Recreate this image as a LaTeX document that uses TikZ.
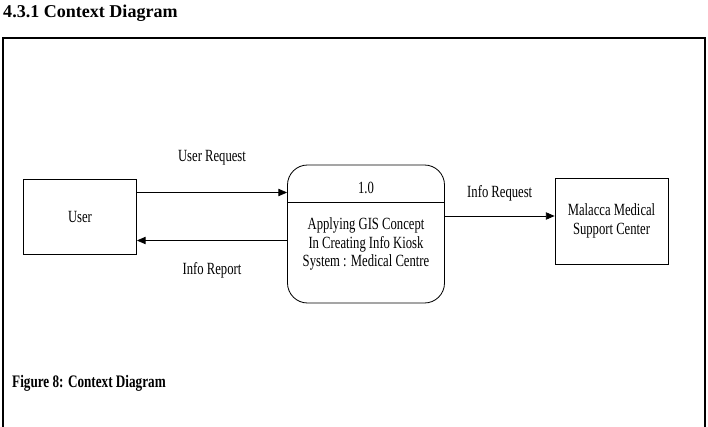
\documentclass[tikz,border=0pt]{standalone}
\usepackage{fontspec}
\setmainfont{Liberation Serif}
\newfontfamily\narrowserif[FakeStretch=0.74]{Liberation Serif}
\newfontfamily\captionserif[FakeStretch=0.75]{Liberation Serif}
\usetikzlibrary{arrows.meta,calc}
\tikzset{
  entity/.style={draw, line width=0.7pt, minimum width=3.39cm, minimum height=2.25cm, align=center, font=\narrowserif\fontsize{14.6}{16.5}\selectfont},
  procbox/.style={draw, line width=0.7pt, rounded corners=0.6cm, minimum width=4.71cm, minimum height=4.14cm},
  proctext/.style={align=center, font=\narrowserif\fontsize{14.6}{16}\selectfont},
  flowlabel/.style={font=\narrowserif\fontsize{14.6}{16}\selectfont},
  flow/.style={-{Triangle[length=2.6mm,width=2.2mm]}, line width=0.6pt}
}
\begin{document}
\begin{tikzpicture}[x=0.03cm, y=-0.03cm]
  \useasboundingbox (0,0) rectangle (708,427);
  \node[anchor=base west, font=\bfseries\fontsize{15.4}{17}\selectfont, inner sep=0pt] (title) at (3,18) {4.3.1 Context Diagram};
  \draw[line width=0.9pt] (3,440) -- (3,38) -- (705,38) -- (705,440);

  \node[entity] (user) at (80,216.5) {User};
  \node[procbox] (proc) at (366,234) {};
  \node[entity, minimum height=2.58cm] (mmsc) at (611.5,221) {Malacca Medical\\Support Center};

  \node[proctext] (pid) at ($(proc.north)+(0,23)$) {1.0};
  \draw[line width=0.7pt] ($(proc.north west)+(0,38)$) -- ($(proc.north east)+(0,38)$);
  \node[proctext] (pname) at ($(proc.center)+(0,10)$) {Applying GIS Concept\\In Creating Info Kiosk\\System : Medical Centre};

  \draw[flow] ($(user.east)+(0,-24)$) -- ($(user.east -| proc.west)+(0,-24)$)
    node[flowlabel, midway, yshift=1.05cm] (ureq) {User Request};
  \draw[flow] ($(user.east -| proc.west)+(0,24)$) -- ($(user.east)+(0,24)$)
    node[flowlabel, midway, yshift=-0.9cm] (irep) {Info Report};
  \draw[flow] ($(mmsc.west -| proc.east)+(0,-5)$) -- ($(mmsc.west)+(0,-5)$)
    node[flowlabel, midway, yshift=0.69cm] (ireq) {Info Request};

  \node[anchor=base west, font=\captionserif\bfseries\fontsize{15}{17}\selectfont, inner sep=0pt] (caption) at (12,387) {Figure 8: Context Diagram};
\end{tikzpicture}
\end{document}
